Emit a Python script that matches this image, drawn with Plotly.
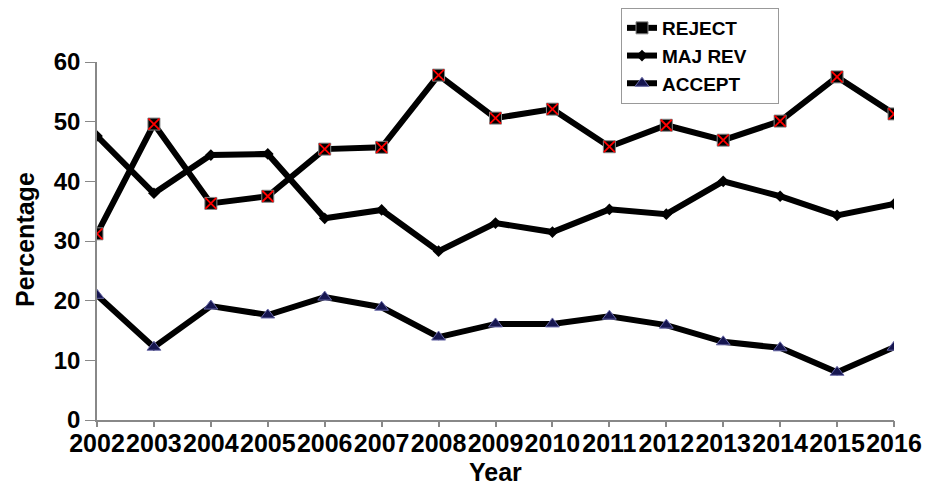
import plotly.graph_objects as go

years = list(range(2002, 2017))
reject = [31.2, 49.6, 36.3, 37.5, 45.4, 45.7, 57.8, 50.6, 52.1, 45.8, 49.4, 46.9, 50.1, 57.5, 51.3]
maj_rev = [47.6, 38.0, 44.4, 44.6, 33.8, 35.2, 28.3, 33.0, 31.5, 35.3, 34.5, 40.0, 37.5, 34.3, 36.2]
accept = [20.9, 12.2, 19.1, 17.6, 20.6, 18.9, 13.9, 16.1, 16.1, 17.4, 15.9, 13.1, 12.1, 8.0, 12.2]
y_ticks = [0, 10, 20, 30, 40, 50, 60]

FONT = "Liberation Sans, Arial, sans-serif"
PAD = "\u00a0" * 5
# page has an 8px body margin; figure sized to fit inside the window
W, H = 926, 478
L, R, T, B = 89, 40, 54, 66
PW, PH = W - L - R, H - T - B

def px_x(px):
    return (px - L) / PW

def px_y(py):
    return 1 - (py - T) / PH

fig = go.Figure()
fig.add_trace(go.Scatter(
    x=years, y=maj_rev, name="MAJ REV" + PAD, mode="lines+markers",
    line=dict(color="black", width=6),
    marker=dict(symbol="diamond", size=9, color="black"),
    legendrank=2,
))
fig.add_trace(go.Scatter(
    x=years, y=accept, name="ACCEPT" + PAD, mode="lines+markers",
    line=dict(color="black", width=6),
    marker=dict(symbol="triangle-up", size=12, color="#161650",
                line=dict(color="#6a6aa8", width=1)),
    legendrank=3,
))
fig.add_trace(go.Scatter(
    x=years, y=reject, name="REJECT" + PAD, mode="lines+markers",
    line=dict(color="black", width=6),
    marker=dict(symbol="square", size=12, color="black",
                line=dict(color="#888888", width=1)),
    legendrank=1,
))
fig.add_trace(go.Scatter(
    x=years, y=reject, mode="markers", showlegend=False, hoverinfo="skip",
    marker=dict(symbol="x-thin", size=11, color="red",
                line=dict(color="red", width=1.8)),
))
# invisible trace on an overlay axis that carries the outside tick marks
fig.add_trace(go.Scatter(
    x=years, y=accept, mode="lines", opacity=0, showlegend=False, hoverinfo="skip",
    xaxis="x2", yaxis="y",
))

fig.update_layout(
    width=W, height=H,
    margin=dict(l=L, r=R, t=T, b=B, autoexpand=False),
    paper_bgcolor="white", plot_bgcolor="white",
    font=dict(family=FONT, color="black"),
    showlegend=True,
    legend=dict(
        x=px_x(613), y=px_y(0), xanchor="left", yanchor="top",
        font=dict(size=19, weight="bold", family=FONT),
        bordercolor="#999999", borderwidth=1, bgcolor="white",
        tracegroupgap=0, itemwidth=30,
    ),
    annotations=[
        dict(text="Year", x=0.5, y=px_y(464), xref="paper", yref="paper",
             showarrow=False, xanchor="center", yanchor="middle",
             font=dict(size=25, weight="bold", family=FONT)),
        dict(text="Percentage", x=px_x(17), y=px_y(232), xref="paper", yref="paper",
             showarrow=False, xanchor="center", yanchor="middle", textangle=-90,
             font=dict(size=25, weight="bold", family=FONT)),
    ],
    xaxis2=dict(
        overlaying="x", range=[2002, 2016], tickmode="array", tickvals=years,
        showticklabels=False, showgrid=False, zeroline=False, automargin=False,
        showline=False, ticks="outside", ticklen=6, tickcolor="#888888", tickwidth=1.5,
        side="bottom", anchor="y",
    ),
)
fig.layout.xaxis.update(
    range=[2002, 2016], tickmode="array", tickvals=years, ticktext=[str(y) for y in years],
    tickangle=0, showgrid=False, zeroline=False, automargin=False,
    showline=True, linecolor="#888888", linewidth=1.5,
    ticks="", ticklen=0,
    tickfont=dict(size=25, weight="bold", family=FONT),
)
fig.update_yaxes(
    range=[0, 60], tickvals=y_ticks, showgrid=False, zeroline=False, automargin=False,
    showline=True, linecolor="#888888", linewidth=1.5,
    ticks="outside", ticklen=10, tickcolor="#888888",
    tickfont=dict(size=24, weight="bold", family=FONT),
)
fig.write_html("out.html")
